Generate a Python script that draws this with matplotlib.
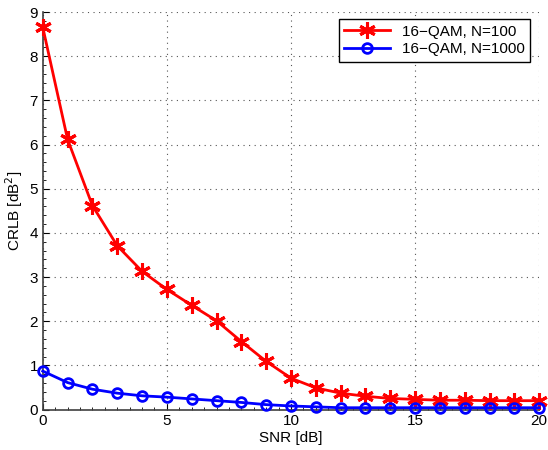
import matplotlib
matplotlib.use('Agg')
import matplotlib.pyplot as plt
from matplotlib.ticker import MultipleLocator

plt.rcParams['font.family'] = ['Liberation Sans', 'DejaVu Sans']

snr = list(range(0, 21))
crlb_n100 = [8.66, 6.12, 4.62, 3.71, 3.13, 2.72, 2.36, 2.01, 1.54, 1.09, 0.71,
             0.49, 0.37, 0.30, 0.25, 0.23, 0.21, 0.21, 0.20, 0.20, 0.20]
crlb_n1000 = [0.87, 0.61, 0.46, 0.37, 0.31, 0.28, 0.24, 0.20, 0.16, 0.11, 0.08,
              0.06, 0.04, 0.04, 0.04, 0.04, 0.04, 0.04, 0.04, 0.04, 0.04]
labels = ['16\u2212QAM, N=100', '16\u2212QAM, N=1000']

fig = plt.figure(figsize=(5.48, 4.5), dpi=100)
ax = fig.add_axes([0.078, 0.09, 0.906, 0.883])

ax.plot(snr, crlb_n100, color='red', lw=2, marker=(6, 2, 0), ms=12, mew=2.2,
        label=labels[0], clip_on=False, zorder=3)
ax.plot(snr, crlb_n1000, color='blue', lw=2, marker='o', ms=7, mew=2, mfc='none',
        label=labels[1], clip_on=False, zorder=3)

ax.set_xlim(0, 20)
ax.set_ylim(0, 9)
ax.xaxis.set_major_locator(MultipleLocator(5))
ax.yaxis.set_major_locator(MultipleLocator(1))
ax.xaxis.set_minor_locator(MultipleLocator(0.5))
ax.yaxis.set_minor_locator(MultipleLocator(0.2))
ax.tick_params(which='both', direction='in', labelsize=11, colors='black')
ax.tick_params(which='major', length=4)
ax.tick_params(which='minor', length=2)

for s in ['top', 'right']:
    ax.spines[s].set_visible(False)
for s in ['left', 'bottom']:
    ax.spines[s].set_color('#404040')
    ax.spines[s].set_linewidth(1.2)

ax.grid(True, which='major', linestyle=(0, (1, 4)), color='#555555', lw=0.8)
ax.set_axisbelow(True)

ax.set_xlabel('SNR [dB]', fontsize=11, labelpad=2)
ax.set_ylabel('CRLB [dB$^2$]', fontsize=11, labelpad=3)

leg = ax.legend(loc='upper right', bbox_to_anchor=(0.982, 0.982), borderaxespad=0,
                fontsize=11, fancybox=False, edgecolor='black', framealpha=1,
                handlelength=3.0, borderpad=0.35, labelspacing=0.25)
leg.get_frame().set_linewidth(1)

fig.savefig('out.png', dpi=100)
